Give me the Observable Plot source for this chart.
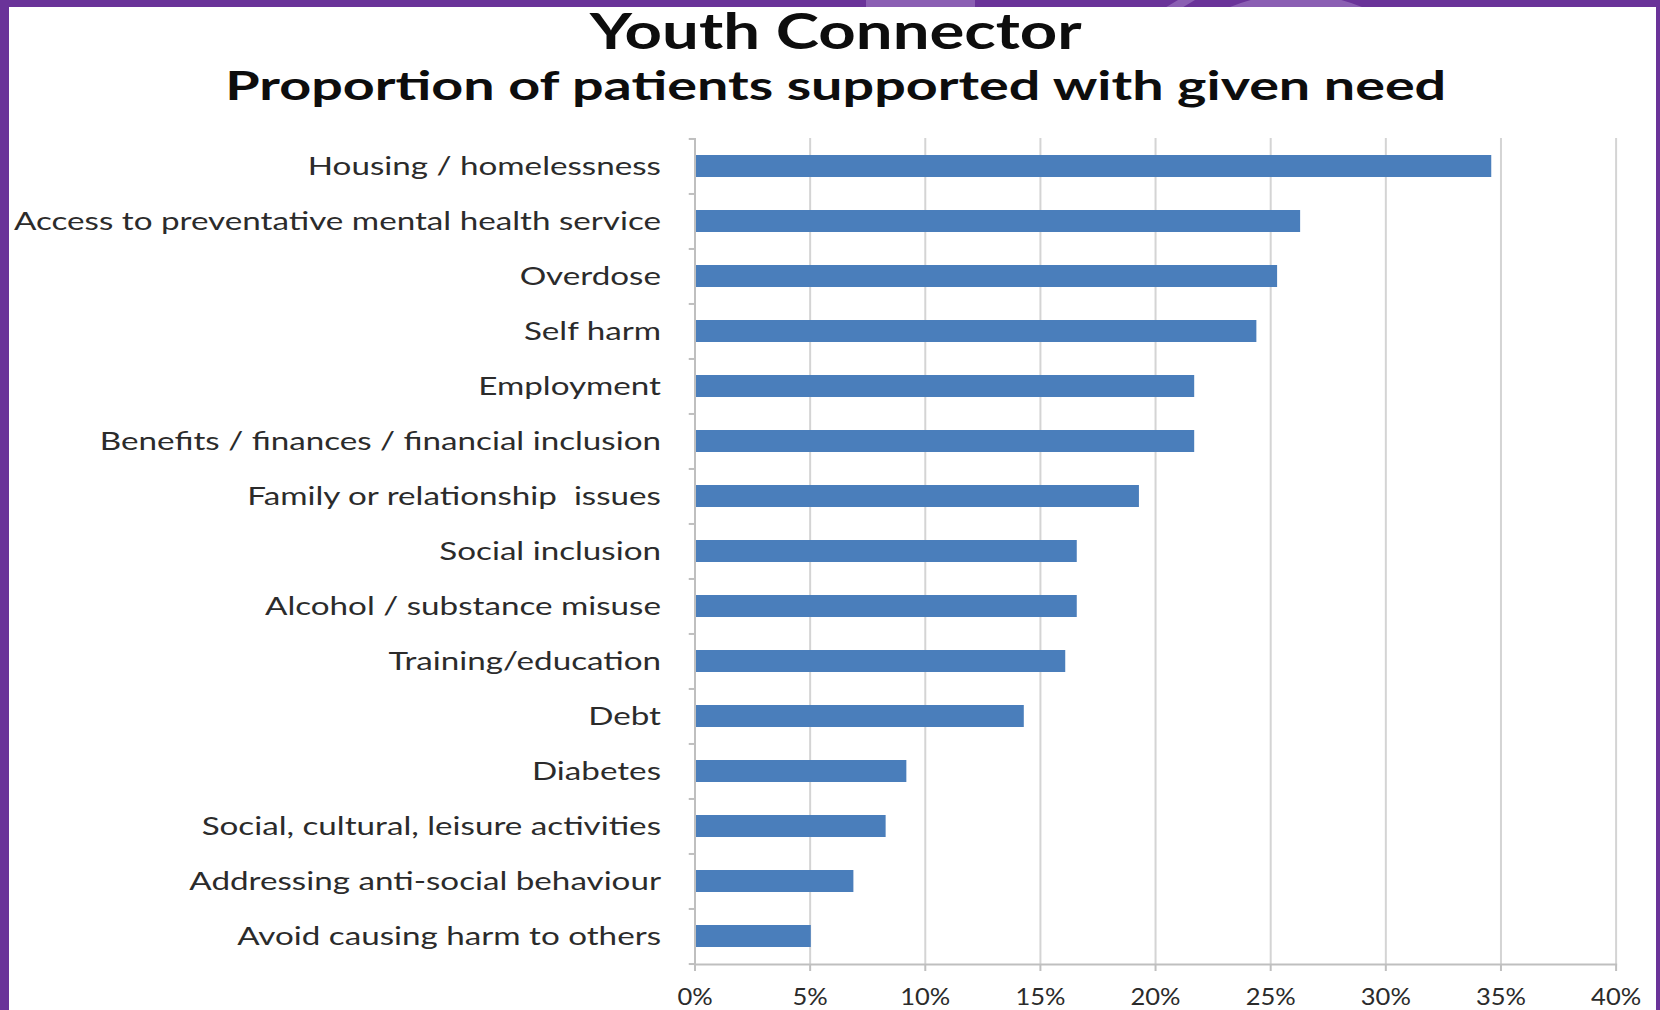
<!DOCTYPE html>
<html>
<head>
<meta charset="utf-8">
<script src="https://cdn.jsdelivr.net/npm/d3@7"></script>
<script src="https://cdn.jsdelivr.net/npm/@observablehq/plot@0.6"></script>
<style>
  html, body { margin: 0; padding: 0; }
  body { width: 1660px; height: 1010px; background: #6a3399; overflow: hidden; position: relative; font-family: Lato, "Open Sans", sans-serif; }
  .deco { position: absolute; background: #8b5fb3; }
  #deco1 { left: 866px; top: 0; width: 109px; height: 12px; }
  #deco2 { left: 1150px; top: 0; width: 50px; height: 12px; clip-path: polygon(28px 0, 45px 0, 25px 12px, 8px 12px); }
  #deco3 { left: 1122px; top: -6px; width: 348px; height: 348px; border-radius: 50%; }
  #card { position: absolute; left: 9px; top: 7px; width: 1647px; height: 1003px; background: #ffffff; }
  .ttl { position: absolute; left: 0; width: 1660px; text-align: center; font-weight: 700; color: #0d0d0d; white-space: nowrap; line-height: 1; }
  .ttl span { display: inline-block; transform-origin: 50% 50%; }
  #title { top: 6px; font-size: 49px; padding-left: 12px; box-sizing: border-box; }
  #subtitle { top: 65px; font-size: 40px; padding-left: 11px; box-sizing: border-box; }
  #chart { position: absolute; left: 9px; top: 118px; }
</style>
</head>
<body>
<div id="deco1" class="deco"></div>
<div id="deco2" class="deco"></div>
<div id="deco3" class="deco"></div>
<div id="card"></div>
<div id="title" class="ttl"><span>Youth Connector</span></div>
<div id="subtitle" class="ttl"><span>Proportion of patients supported with given need</span></div>
<div id="chart"></div>
<script>
// ---- data ----
const categories = [
  "Housing / homelessness",
  "Access to preventative mental health service",
  "Overdose",
  "Self harm",
  "Employment",
  "Benefits / finances / financial inclusion",
  "Family or relationship  issues",
  "Social inclusion",
  "Alcohol / substance misuse",
  "Training/education",
  "Debt",
  "Diabetes",
  "Social, cultural, leisure activities",
  "Addressing anti-social behaviour",
  "Avoid causing harm to others"
];
const values = [34.6, 26.3, 25.3, 24.4, 21.7, 21.7, 19.3, 16.6, 16.6, 16.1, 14.3, 9.2, 8.3, 6.9, 5.05];
const xTicks = [0, 5, 10, 15, 20, 25, 30, 35, 40];

const data = categories.map((c, i) => ({ need: c, pct: values[i] }));

// stretch titles horizontally to the reference widths
function fit(sel, target) {
  const el = document.querySelector(sel);
  const w = el.getBoundingClientRect().width;
  el.style.transform = "scaleX(" + (target / w) + ")";
}
fit("#title span", 492);
fit("#subtitle span", 1221);

const W = 1647, H = 892, mT = 20, mB = 46, mL = 685.5, mR = 40.4;
const step = (H - mT - mB) / categories.length;
const axisGray = "#bfbfbf";
const textColor = "#2b2b2b";

const chart = Plot.plot({
  width: W,
  height: H,
  marginTop: mT,
  marginBottom: mB,
  marginLeft: mL,
  marginRight: mR,
  style: { fontFamily: "Lato, 'Open Sans', sans-serif", fontSize: "25px", color: textColor, background: "transparent", overflow: "visible" },
  x: { domain: [0, 40], label: null },
  y: { domain: categories, paddingInner: 0.6, paddingOuter: 0.3, label: null },
  marks: [
    Plot.ruleX(xTicks.filter(d => d > 0), { stroke: "#d4d4d4", strokeWidth: 2 }),
    Plot.barX(data, { x: "pct", y: "need", fill: "#4a7ebb" }),
    Plot.ruleX([0], { stroke: axisGray, strokeWidth: 2 }),
    Plot.frame({ anchor: "bottom", stroke: axisGray, strokeWidth: 2 }),
    Plot.ruleY(categories, { y: d => d, dy: -step / 2, x1: -0.25, x2: 0, stroke: axisGray, strokeWidth: 2 }),
    Plot.ruleY([categories[categories.length - 1]], { y: d => d, dy: step / 2, x1: -0.25, x2: 0, stroke: axisGray, strokeWidth: 2 }),
    Plot.axisX({ ticks: xTicks, tickFormat: d => d + "%", tickSize: 7, tickPadding: 16, stroke: axisGray, strokeWidth: 2, fill: textColor, label: null, fontSize: 24 }),
    Plot.axisY({ tickSize: 0, tickPadding: 34, fill: textColor, label: null, fontSize: 25 })
  ]
});
document.getElementById("chart").appendChild(chart);

// the reference text is horizontally stretched: widen the axis labels to match
function stretch(selector, longestTarget) {
  const texts = Array.from(chart.querySelectorAll(selector));
  const lens = texts.map(t => t.getComputedTextLength());
  const k = longestTarget / Math.max(...lens);
  texts.forEach((t, i) => {
    t.setAttribute("textLength", lens[i] * k);
    t.setAttribute("lengthAdjust", "spacingAndGlyphs");
  });
}
stretch('g[aria-label="y-axis tick label"] text', 647);
stretch('g[aria-label="x-axis tick label"] text', 50);
</script>
</body>
</html>
